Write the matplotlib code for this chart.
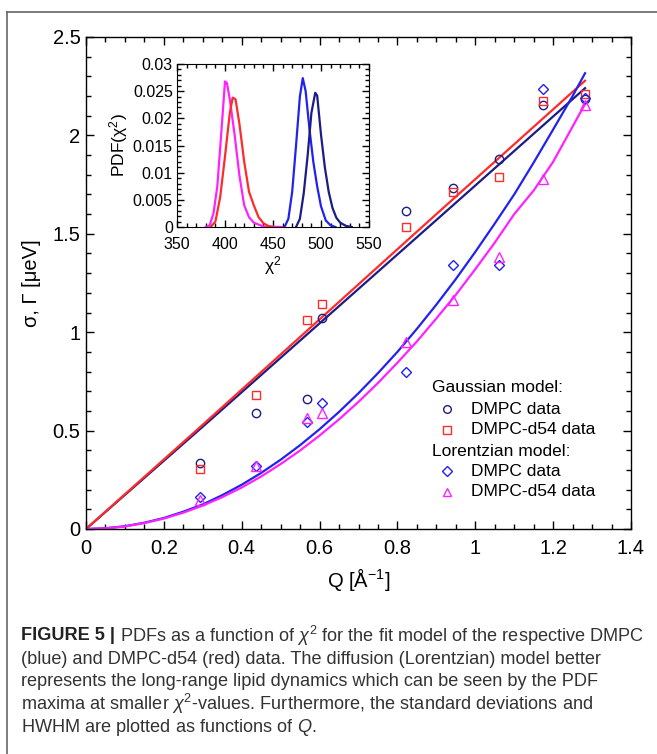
import matplotlib
matplotlib.use("Agg")
import matplotlib.pyplot as plt
from matplotlib.ticker import MultipleLocator, FuncFormatter
from matplotlib.lines import Line2D

plt.rcParams['font.family'] = ['Liberation Sans', 'DejaVu Sans']
plt.rcParams['mathtext.fontset'] = 'custom'
plt.rcParams['mathtext.rm'] = 'Liberation Sans'
plt.rcParams['mathtext.it'] = 'Liberation Sans:italic'

# ---- data: main panel ----
q_values = [0.293, 0.436, 0.567, 0.605, 0.822, 0.944, 1.062, 1.175, 1.282]
gauss_dmpc = [0.334, 0.591, 0.661, 1.071, 1.616, 1.731, 1.882, 2.154, 2.183]
gauss_d54 = [0.303, 0.681, 1.061, 1.145, 1.535, 1.711, 1.790, 2.176, 2.209]
lor_dmpc = [0.164, 0.320, 0.544, 0.642, 0.796, 1.343, 1.341, 2.236, 2.19]
lor_d54 = [0.147, 0.322, 0.562, 0.588, 0.952, 1.164, 1.384, 1.777, 2.155]

fit_q_gauss = [0, 0.3, 0.6, 0.9, 1.282]
fit_gauss_dmpc = [0, 0.52, 1.045, 1.57, 2.24]
fit_gauss_d54 = [0, 0.53, 1.065, 1.60, 2.278]

fit_q_lor = [0, 0.05, 0.1, 0.15, 0.2, 0.25, 0.3, 0.35, 0.4, 0.45, 0.5, 0.55, 0.6, 0.65,
             0.7, 0.75, 0.8, 0.85, 0.9, 0.95, 1.0, 1.05, 1.1, 1.15, 1.2, 1.25, 1.282]
fit_lor_dmpc = [0, 0.004, 0.014, 0.032, 0.056, 0.088, 0.125, 0.172, 0.225, 0.285, 0.352,
                0.426, 0.507, 0.595, 0.69, 0.792, 0.90, 1.017, 1.14, 1.27, 1.408, 1.552,
                1.70, 1.862, 2.03, 2.20, 2.316]
fit_lor_d54 = [0, 0.003, 0.013, 0.030, 0.053, 0.083, 0.119, 0.162, 0.211, 0.267, 0.33,
               0.399, 0.475, 0.557, 0.646, 0.742, 0.845, 0.953, 1.07, 1.19, 1.32, 1.455,
               1.60, 1.72, 1.866, 2.045, 2.16]

# ---- data: inset PDFs ----
mag_x = [380, 384, 388, 392, 396, 400, 402, 405, 410, 415, 420, 425, 430, 440, 460]
mag_y = [0, 0.0003, 0.0025, 0.0075, 0.017, 0.0268, 0.0265, 0.0235, 0.017, 0.0095, 0.004, 0.0018, 0.0008, 0.0001, 0]
red_x = [385, 390, 395, 400, 405, 408, 411, 415, 420, 425, 430, 435, 440, 445, 450]
red_y = [0, 0.001, 0.0055, 0.013, 0.021, 0.0238, 0.0235, 0.019, 0.012, 0.0065, 0.004, 0.0018, 0.0007, 0.0002, 0]
blue_x = [462, 466, 470, 474, 478, 481, 484, 488, 492, 496, 500, 505, 510, 515]
blue_y = [0, 0.0015, 0.0065, 0.015, 0.024, 0.0274, 0.025, 0.018, 0.012, 0.0075, 0.0038, 0.0012, 0.0003, 0]
navy_x = [474, 478, 482, 486, 490, 494, 496, 500, 504, 508, 512, 516, 520, 526, 532]
navy_y = [0, 0.0015, 0.0062, 0.013, 0.021, 0.0247, 0.0242, 0.017, 0.011, 0.0065, 0.0035, 0.0017, 0.0008, 0.0002, 0]

NAVY = '#1c1c86'
BLUE = '#2222ee'
RED = '#ff2a2a'
MAG = '#ff22ff'

W, H = 657, 754
fig = plt.figure(figsize=(W / 100, H / 100), dpi=100)

def px_ax(l, t, r, b):
    return [l / W, 1 - b / H, (r - l) / W, (b - t) / H]

ax = fig.add_axes(px_ax(86, 37, 631, 529))
ax.plot(fit_q_gauss, fit_gauss_dmpc, color=NAVY, lw=1.6)
ax.plot(fit_q_gauss, fit_gauss_d54, color=RED, lw=1.6)
ax.plot(fit_q_lor, fit_lor_dmpc, color=BLUE, lw=1.6)
ax.plot(fit_q_lor, fit_lor_d54, color=MAG, lw=1.6)
mk = dict(ls='none', mfc='none', mew=1.0)
ax.plot(q_values, gauss_dmpc, marker='o', ms=6, mec=NAVY, **mk)
ax.plot(q_values, gauss_d54, marker='s', ms=6, mec=RED, **mk)
ax.plot(q_values, lor_dmpc, marker='D', ms=5, mec=BLUE, **mk)
ax.plot(q_values, lor_d54, marker='^', ms=6.5, mec=MAG, **mk)

ax.set_xlim(0, 1.4)
ax.set_ylim(0, 2.5)
ax.xaxis.set_major_locator(MultipleLocator(0.2))
ax.xaxis.set_minor_locator(MultipleLocator(0.05))
ax.yaxis.set_major_locator(MultipleLocator(0.5))
ax.yaxis.set_minor_locator(MultipleLocator(0.1))
fmt = FuncFormatter(lambda v, p: '%g' % round(v, 6))
ax.xaxis.set_major_formatter(fmt)
ax.yaxis.set_major_formatter(fmt)
ax.tick_params(which='both', direction='in', top=True, right=True, width=1.0, labelsize=14.5)
ax.tick_params(which='major', length=6, pad=4)
ax.tick_params(axis='x', which='major', pad=7)
ax.tick_params(which='minor', length=3.5)
for s in ax.spines.values():
    s.set_linewidth(1.0)
ax.set_xlabel('Q [Å$^{-1}$]', fontsize=14.5, labelpad=6)
ax.set_ylabel('σ, Γ [μeV]', fontsize=14.5, labelpad=8)

# legend drawn manually
def axf(px, py):
    return ((px - 86) / 545, (529 - py) / 492)

legend_rows = [
    ('Gaussian model:', None, None),
    ('DMPC data', 'o', NAVY),
    ('DMPC-d54 data', 's', RED),
    ('Lorentzian model:', None, None),
    ('DMPC data', 'D', BLUE),
    ('DMPC-d54 data', '^', MAG),
]
row_y = [388, 409, 430, 451, 471, 492]
for (label, m, c), py in zip(legend_rows, row_y):
    if m is None:
        x, y = axf(432, py)
        ax.text(x, y, label, transform=ax.transAxes, fontsize=12.5, va='center', ha='left')
    else:
        x, y = axf(447, py)
        ax.plot([x], [y], transform=ax.transAxes, marker=m, ms=5.5 if m != 'D' else 4.8,
                mfc='none', mec=c, mew=1.0, ls='none')
        x2, _ = axf(471, py)
        ax.text(x2, y, label, transform=ax.transAxes, fontsize=12.5, va='center', ha='left')

# inset
ins = fig.add_axes(px_ax(177, 64, 369, 227))
ins.plot(mag_x, mag_y, color=MAG, lw=1.6)
ins.plot(red_x, red_y, color=RED, lw=1.6)
ins.plot(blue_x, blue_y, color=BLUE, lw=1.6)
ins.plot(navy_x, navy_y, color=NAVY, lw=1.6)
ins.set_xlim(350, 550)
ins.set_ylim(0, 0.03)
ins.xaxis.set_major_locator(MultipleLocator(50))
ins.xaxis.set_minor_locator(MultipleLocator(10))
ins.yaxis.set_major_locator(MultipleLocator(0.005))
ins.yaxis.set_minor_locator(MultipleLocator(0.001))
ins.xaxis.set_major_formatter(fmt)
ins.yaxis.set_major_formatter(fmt)
ins.tick_params(which='both', direction='in', top=True, right=True, width=1.0, labelsize=11.5)
ins.tick_params(which='major', length=5, pad=3)
ins.tick_params(axis='x', which='major', pad=7)
ins.tick_params(which='minor', length=3)
ins.set_xlabel('χ$^2$', fontsize=12.5, labelpad=2)
ins.set_ylabel('PDF(χ$^2$)', fontsize=12.5, labelpad=2)

# frame
fig.add_artist(Line2D([7 / W, 7 / W], [0, 1 - 12 / H], color='#666666', lw=1.2))
fig.add_artist(Line2D([7 / W, 1], [1 - 12 / H, 1 - 12 / H], color='#666666', lw=1.2))

# caption
cap_lines = [
    'PDFs as a function of $\\chi^2$ for the fit model of the respective DMPC',
    '(blue) and DMPC-d54 (red) data. The diffusion (Lorentzian) model better',
    'represents the long-range lipid dynamics which can be seen by the PDF',
    'maxima at smaller $\\chi^2$-values. Furthermore, the standard deviations and',
    'HWHM are plotted as functions of $Q$.',
]
cap_y = [636, 659, 681, 704, 727]
cap_fs = 13.1
renderer = fig.canvas.get_renderer()
bold = fig.text(21 / W, 1 - cap_y[0] / H, 'FIGURE 5 | ', fontsize=cap_fs, fontweight='bold',
                va='center', ha='left', color='#222222')
bb = bold.get_window_extent(renderer)
for i, (line, py) in enumerate(zip(cap_lines, cap_y)):
    x0 = bb.x1 / W if i == 0 else 21 / W
    fig.text(x0, 1 - py / H, line, fontsize=cap_fs, va='center', ha='left', color='#333333')

fig.savefig('out.png', dpi=100)
